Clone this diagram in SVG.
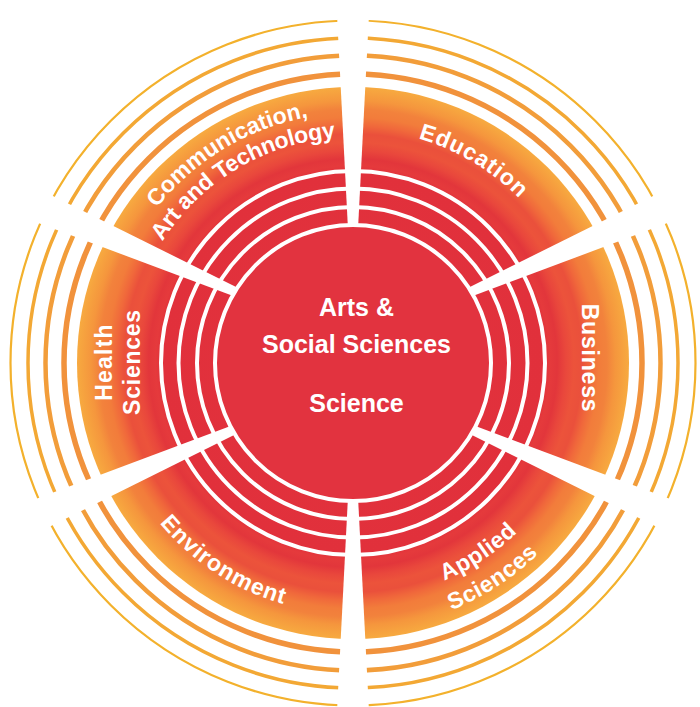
<svg xmlns="http://www.w3.org/2000/svg" xmlns:xlink="http://www.w3.org/1999/xlink" width="700" height="707" viewBox="0 0 700 707">
<style>
.lbl{font-family:"Liberation Sans",Arial,sans-serif;font-weight:bold;font-size:23px;fill:#ffffff}
.ctr{font-family:"Liberation Sans",Arial,sans-serif;font-weight:bold;font-size:25px;fill:#ffffff}
.ring{fill:none;stroke:#ffffff;stroke-width:4}
.gap{fill:#ffffff}
</style>
<defs>
<radialGradient id="bandGrad" gradientUnits="userSpaceOnUse" cx="353" cy="363" r="276">
<stop offset="0" stop-color="#e2333f"/>
<stop offset="0.69" stop-color="#e1303b"/>
<stop offset="0.715" stop-color="#e53a3c"/>
<stop offset="0.74" stop-color="#e2363b"/>
<stop offset="0.77" stop-color="#e9473c"/>
<stop offset="0.80" stop-color="#ec533b"/>
<stop offset="0.83" stop-color="#ea503b"/>
<stop offset="0.86" stop-color="#f0683b"/>
<stop offset="0.89" stop-color="#f27c3b"/>
<stop offset="0.92" stop-color="#f2823c"/>
<stop offset="0.95" stop-color="#f5963d"/>
<stop offset="1" stop-color="#f7aa40"/>
</radialGradient>
<path id="arcEdu" d="M173.8,212.6 A234,234 0 0 1 532.2,212.6"/>
<path id="arcCom1" d="M161.5,202.3 A250,250 0 0 1 544.5,202.3"/>
<path id="arcCom2" d="M179.9,217.7 A226,226 0 0 1 526.1,217.7"/>
<path id="arcEnv" d="M160.7,524.3 A251,251 0 0 0 545.3,524.3"/>
<path id="arcApp1" d="M172.2,514.7 A236,236 0 0 0 533.8,514.7"/>
<path id="arcApp2" d="M149.2,534 A266,266 0 0 0 556.8,534"/>
<polygon id="wedge" points="120,-4.3 372,-17.2 372,17.2 120,4.3"/>
</defs>

<g id="background">
<circle cx="353" cy="363" r="276" fill="url(#bandGrad)"/>
<circle class="ring" cx="353" cy="363" r="156"/>
<circle class="ring" cx="353" cy="363" r="174.5"/>
<circle class="ring" cx="353" cy="363" r="192"/>
<circle cx="353" cy="363" r="289" fill="none" stroke="#f1923c" stroke-width="5.5"/>
<circle cx="353" cy="363" r="307.5" fill="none" stroke="#f29d3a" stroke-width="4.5"/>
<circle cx="353" cy="363" r="325" fill="none" stroke="#f3a834" stroke-width="3.5"/>
<circle cx="353" cy="363" r="342.5" fill="none" stroke="#f3b12c" stroke-width="2.2"/>
</g>

<g id="connectors">
<use href="#wedge" class="gap" transform="translate(353,363) rotate(-90)"/>
<use href="#wedge" class="gap" transform="translate(353,363) rotate(90)"/>
<use href="#wedge" class="gap" transform="translate(353,343) rotate(-23.5)"/>
<use href="#wedge" class="gap" transform="translate(353,343) rotate(-156.5)"/>
<use href="#wedge" class="gap" transform="translate(353,378) rotate(23.5)"/>
<use href="#wedge" class="gap" transform="translate(353,378) rotate(156.5)"/>
</g>

<g id="center">
<circle cx="353" cy="363" r="138" fill="#e2333f" stroke="#ffffff" stroke-width="4"/>
<text class="ctr" x="356.5" y="316" text-anchor="middle">Arts &amp;</text>
<text class="ctr" x="356.5" y="353" text-anchor="middle">Social Sciences</text>
<text class="ctr" x="356.5" y="412" text-anchor="middle">Science</text>
</g>

<g id="education">
<text class="lbl" letter-spacing="0.9" transform="rotate(30.8 353 363)"><textPath href="#arcEdu" startOffset="50%" text-anchor="middle">Education</textPath></text>
</g>

<g id="business">
<text class="lbl" letter-spacing="0.8" transform="translate(582,358) rotate(90)" text-anchor="middle">Business</text>
</g>

<g id="applied-sciences">
<text class="lbl" letter-spacing="0.6" transform="rotate(-33.5 353 363)"><textPath href="#arcApp1" startOffset="50%" text-anchor="middle">Applied</textPath></text>
<text class="lbl" letter-spacing="0.6" transform="rotate(-33 353 363)"><textPath href="#arcApp2" startOffset="50%" text-anchor="middle">Sciences</textPath></text>
</g>

<g id="environment">
<text class="lbl" letter-spacing="0.9" transform="rotate(33.2 353 363)"><textPath href="#arcEnv" startOffset="50%" text-anchor="middle">Environment</textPath></text>
</g>

<g id="health-sciences">
<text class="lbl" letter-spacing="1.2" transform="translate(112,362) rotate(-90)" text-anchor="middle">Health</text>
<text class="lbl" letter-spacing="0.75" transform="translate(140,362) rotate(-90)" text-anchor="middle">Sciences</text>
</g>

<g id="communication">
<text class="lbl" transform="rotate(-31 353 363)"><textPath href="#arcCom1" startOffset="50%" text-anchor="middle">Communication,</textPath></text>
<text class="lbl" letter-spacing="-0.3" transform="rotate(-31 353 363)"><textPath href="#arcCom2" startOffset="50%" text-anchor="middle">Art and Technology</textPath></text>
</g>
</svg>
